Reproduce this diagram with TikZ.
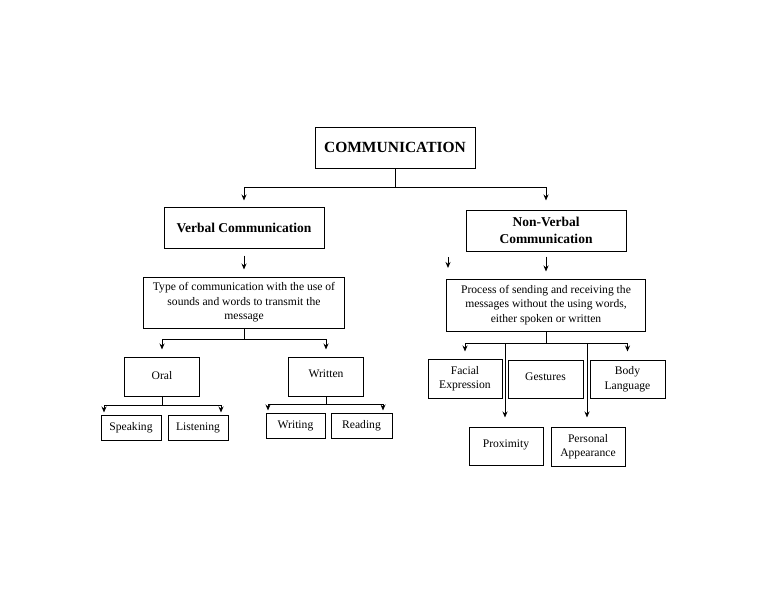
\documentclass[tikz,border=0pt]{standalone}
\usepackage{fontspec}
\setmainfont{Liberation Serif}
\usetikzlibrary{arrows.meta}
\begin{document}
\begin{tikzpicture}[x=1pt,y=-1pt,
  box/.style={draw,line width=1pt,align=center,inner sep=1pt,font=\fontsize{11.6}{14.5}\selectfont},
  bbox/.style={box,font=\bfseries\fontsize{13.5}{17}\selectfont},
  arr/.style={line width=1pt,-{Stealth[length=6pt,width=5pt]}},
  ln/.style={line width=1pt}]
\useasboundingbox[fill=white] (0,0) rectangle (768,594);
\node[box,font=\bfseries\fontsize{15.5}{18}\selectfont,minimum width=160,minimum height=41] (comm) at (395,147.5) {COMMUNICATION};
\node[bbox,minimum width=160,minimum height=41] (verb) at (244,227.5) {Verbal Communication};
\node[bbox,minimum width=160,minimum height=41] (nonv) at (546,230.5) {Non-Verbal\\Communication};
\node[box,minimum width=201,minimum height=51] (type) at (244,302.5) {Type of communication with the use of\\sounds and words to transmit the\\message};
\node[box,minimum width=199,minimum height=52] (proc) at (546,305) {Process of sending and receiving the\\messages without the using words,\\either spoken or written};
\node[box,minimum width=75,minimum height=39] (oral) at (162,376.5) {\raisebox{3pt}{Oral}};
\node[box,minimum width=75,minimum height=39] (writ) at (326,376.5) {\raisebox{5pt}{Written}};
\node[box,minimum width=60,minimum height=25] (speak) at (131,427.5) {Speaking};
\node[box,minimum width=60,minimum height=25] (listen) at (198,427.5) {\raisebox{2pt}{Listening}};
\node[box,minimum width=59,minimum height=25] (writing) at (295.5,425.5) {\raisebox{2pt}{Writing}};
\node[box,minimum width=61,minimum height=25] (read) at (361.5,425.5) {\raisebox{2pt}{Reading}};
\node[box,minimum width=74,minimum height=39] (face) at (465,378.5) {Facial\\Expression};
\node[box,minimum width=75,minimum height=38] (gest) at (545.5,379) {\raisebox{4pt}{Gestures}};
\node[box,minimum width=75,minimum height=38] (body) at (627.5,379) {Body\\Language};
\node[box,minimum width=74,minimum height=38] (prox) at (506,446) {\raisebox{4pt}{Proximity}};
\node[box,minimum width=74,minimum height=39] (pers) at (588,446.5) {Personal\\Appearance};
% top level
\coordinate (c1) at (395,187);
\draw[ln] (comm.south) -- (c1);
\draw[arr] (c1) -| ([yshift=6pt]verb.north);
\draw[arr] (c1) -| ([yshift=9pt]nonv.north);
\draw[arr] ([yshift=-7pt]verb.south) -- ([yshift=7pt]type.north);
\draw[arr] ([yshift=-5pt]nonv.south) -- ([yshift=7pt]proc.north);
\coordinate (s1) at (448,257);
\coordinate (s2) at (448,268);
\draw[arr] (s1) -- (s2);
% verbal branch
\coordinate (c2) at (244,339);
\draw[ln] (type.south) -- (c2);
\draw[arr] (c2) -| ([yshift=7pt]oral.north);
\draw[arr] (c2) -| ([yshift=7pt]writ.north);
\coordinate (c3) at (162,405);
\draw[ln] (oral.south) -- (c3);
\draw[arr] (c3) -| ([xshift=-27pt,yshift=2pt]speak.north);
\draw[arr] (c3) -| ([xshift=23pt,yshift=2pt]listen.north);
\coordinate (c4) at (326,404);
\draw[ln] (writ.south) -- (c4);
\draw[arr] (c4) -| ([xshift=-27.5pt,yshift=2pt]writing.north);
\draw[arr] (c4) -| ([xshift=21.5pt,yshift=2pt]read.north);
% non-verbal branch
\coordinate (c5) at (546,343);
\draw[ln] (proc.south) -- (c5);
\draw[arr] (c5) -| ([yshift=7pt]face.north);
\draw[arr] (c5) -| ([yshift=8pt]body.north);
\coordinate (c6) at (505,343);
\coordinate (c7) at (587,343);
\draw[arr] (c6) -- ([xshift=-1pt,yshift=9pt]prox.north);
\draw[arr] (c7) -- ([xshift=-1pt,yshift=9pt]pers.north);
\end{tikzpicture}
\end{document}
